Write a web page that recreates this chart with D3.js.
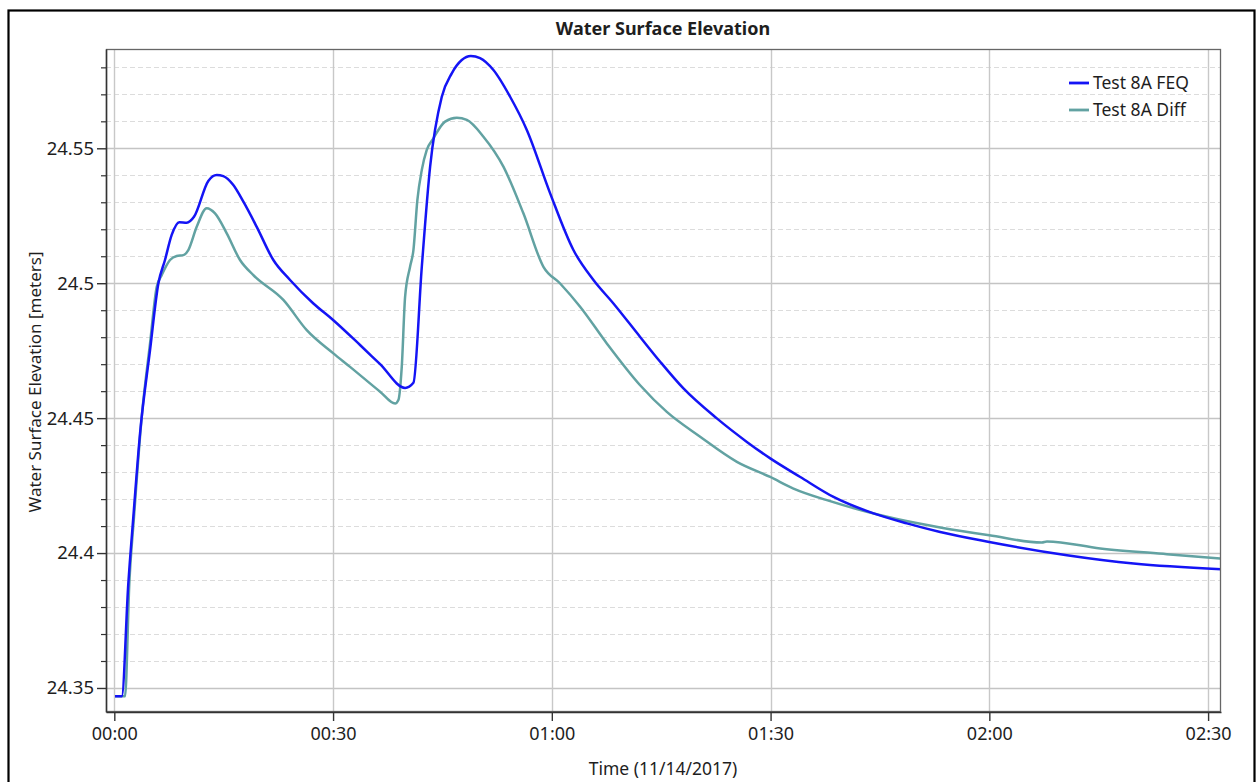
<!DOCTYPE html>
<html>
<head>
<meta charset="utf-8">
<script src="https://cdn.jsdelivr.net/npm/d3@7"></script>
<style>
  html, body { margin: 0; padding: 0; background: #fff; }
  svg { display: block; }
  text { font-family: "Noto Sans", "Open Sans", sans-serif; fill: #1e1e1e; }
</style>
</head>
<body>
<svg id="chart" width="1259" height="782"></svg>
<script>
// ---- data (minutes after 11/14/2017 00:00, water surface elevation in meters) ----
const feqMinutes = [0.1, 1.02, 1.92, 2.61, 3.53, 4.90, 6.04, 6.95, 7.87, 8.92, 9.93, 10.93, 12.89, 14.05, 14.95, 16.32, 17.70, 19.53, 21.81, 24.10, 27.30, 30.04, 33.70, 36.45, 39.88, 41.02, 42.17, 43.31, 44.91, 46.28, 47.65, 48.89, 50.16, 51.99, 54.28, 56.57, 59.77, 62.96, 65.71, 68.45, 72.11, 74.86, 78.05, 82.63, 86.75, 89.95, 94.07, 98.63, 104.12, 108.70, 113.26, 119.99, 130.64, 139.78, 151.77];
const feqValues  = [24.3469, 24.3469, 24.3887, 24.4134, 24.4444, 24.4752, 24.4999, 24.5086, 24.5179, 24.5226, 24.5224, 24.5246, 24.5379, 24.5401, 24.5397, 24.5364, 24.5302, 24.5209, 24.5086, 24.5012, 24.4925, 24.4863, 24.4771, 24.4700, 24.4612, 24.4631, 24.5061, 24.5432, 24.5691, 24.5778, 24.5827, 24.5842, 24.5834, 24.5790, 24.5691, 24.5568, 24.5333, 24.5123, 24.5012, 24.4925, 24.4801, 24.4709, 24.4610, 24.4499, 24.4412, 24.4351, 24.4282, 24.4208, 24.4147, 24.4110, 24.4078, 24.4041, 24.3992, 24.3961, 24.3940];

const diffMinutes = [0.1, 1.47, 2.06, 2.70, 3.76, 4.90, 5.82, 6.50, 7.64, 8.56, 9.47, 10.15, 11.30, 12.67, 13.81, 15.42, 17.24, 19.07, 23.18, 26.39, 30.04, 32.33, 36.45, 38.51, 38.96, 39.42, 39.88, 40.56, 41.02, 41.56, 42.17, 42.85, 43.76, 45.36, 46.97, 48.34, 50.62, 53.36, 56.10, 58.85, 61.14, 63.88, 67.54, 72.11, 75.77, 80.34, 85.38, 89.95, 93.14, 97.72, 103.21, 107.32, 113.26, 119.99, 127.2, 127.9, 135.21, 144.36, 151.77];
const diffValues  = [24.3469, 24.3469, 24.3888, 24.4134, 24.4505, 24.4777, 24.4987, 24.5030, 24.5086, 24.5101, 24.5104, 24.5123, 24.5209, 24.5278, 24.5259, 24.5185, 24.5086, 24.5030, 24.4938, 24.4826, 24.4740, 24.4690, 24.4598, 24.4554, 24.4567, 24.4690, 24.4950, 24.5061, 24.5123, 24.5308, 24.5420, 24.5494, 24.5537, 24.5599, 24.5613, 24.5605, 24.5543, 24.5432, 24.5259, 24.5061, 24.4999, 24.4913, 24.4777, 24.4622, 24.4523, 24.4431, 24.4338, 24.4282, 24.4239, 24.4196, 24.4153, 24.4126, 24.4095, 24.4066, 24.4039, 24.4043, 24.4017, 24.3996, 24.3980];

const seriesNames = ["Test 8A FEQ", "Test 8A Diff"];
const seriesColors = ["#1414f5", "#62a2a2"];
const yMajorTicks = [24.35, 24.4, 24.45, 24.5, 24.55];
const xTickMinutes = [0, 30, 60, 90, 120, 150];
const xDomainMinutes = [-1.14, 151.77];
const yDomain = [24.3411, 24.5868];

// ---- layout ----
const svg = d3.select("#chart");
const plot = { left: 106, top: 49, right: 1221, bottom: 712 };

const t0 = Date.UTC(2017, 10, 14, 0, 0, 0);
const toDate = m => new Date(t0 + m * 60000);

const x = d3.scaleUtc()
  .domain(xDomainMinutes.map(toDate))
  .range([plot.left, plot.right]);
const y = d3.scaleLinear().domain(yDomain).range([plot.bottom, plot.top]);

// outer frame
svg.append("rect").attr("x", 8.5).attr("y", 10.5).attr("width", 1246).attr("height", 820)
  .attr("fill", "none").attr("stroke", "#000").attr("stroke-width", 2.2);

// title
svg.append("text").attr("x", 663).attr("y", 35).attr("text-anchor", "middle")
  .attr("font-size", 18).attr("font-weight", "bold").text("Water Surface Elevation");

// grid: minor horizontal (0.01)
const minorTicks = d3.range(24.35, 24.59, 0.01).map(v => +v.toFixed(2))
  .filter(v => !yMajorTicks.some(m => Math.abs(m - v) < 1e-6));
const gGrid = svg.append("g");
gGrid.selectAll("line.minor").data(minorTicks).join("line")
  .attr("x1", plot.left).attr("x2", plot.right)
  .attr("y1", d => Math.round(y(d)) + 0.5).attr("y2", d => Math.round(y(d)) + 0.5)
  .attr("stroke", "#dcdcdc").attr("stroke-width", 1.2).attr("stroke-dasharray", "5,3");
gGrid.selectAll("line.major").data(yMajorTicks).join("line")
  .attr("x1", plot.left).attr("x2", plot.right)
  .attr("y1", d => Math.round(y(d)) + 0.5).attr("y2", d => Math.round(y(d)) + 0.5)
  .attr("stroke", "#c4c4c4").attr("stroke-width", 1.3);
gGrid.selectAll("line.v").data(xTickMinutes).join("line")
  .attr("x1", d => Math.round(x(toDate(d))) + 0.5).attr("x2", d => Math.round(x(toDate(d))) + 0.5)
  .attr("y1", plot.top).attr("y2", plot.bottom)
  .attr("stroke", "#c8c8c8").attr("stroke-width", 1.4);

// series
const line = d3.line().x(d => x(toDate(d[0]))).y(d => y(d[1])).curve(d3.curveMonotoneX);
const feq = feqMinutes.map((m, i) => [m, feqValues[i]]);
const diff = diffMinutes.map((m, i) => [m, diffValues[i]]);
svg.append("clipPath").attr("id", "clip").append("rect")
  .attr("x", plot.left).attr("y", plot.top).attr("width", plot.right - plot.left).attr("height", plot.bottom - plot.top);
const gLines = svg.append("g").attr("clip-path", "url(#clip)");
gLines.append("path").datum(diff).attr("d", line).attr("fill", "none")
  .attr("stroke", seriesColors[1]).attr("stroke-width", 2.5).attr("stroke-linejoin", "round");
gLines.append("path").datum(feq).attr("d", line).attr("fill", "none")
  .attr("stroke", seriesColors[0]).attr("stroke-width", 2.5).attr("stroke-linejoin", "round");

// plot frame
svg.append("rect").attr("x", plot.left + 0.5).attr("y", plot.top + 0.5)
  .attr("width", plot.right - plot.left - 1).attr("height", plot.bottom - plot.top - 1)
  .attr("fill", "none").attr("stroke", "#666").attr("stroke-width", 1.3);

// axes
const xAxis = d3.axisBottom(x).tickValues(xTickMinutes.map(toDate))
  .tickFormat(d3.utcFormat("%H:%M")).tickSize(9).tickPadding(6).tickSizeOuter(0);
const gx = svg.append("g").attr("transform", `translate(0,${plot.bottom})`).call(xAxis);
gx.select(".domain").attr("stroke", "#333").attr("stroke-width", 1.5);
gx.selectAll(".tick line").attr("stroke", "#333").attr("stroke-width", 1.4);
gx.selectAll(".tick text").attr("font-size", 18).attr("fill", "#1e1e1e")
  .attr("font-family", "'Noto Sans', sans-serif").attr("dy", "0.72em");

const yAxis = d3.axisLeft(y).tickValues(yMajorTicks).tickFormat(d3.format("")).tickSize(9).tickPadding(3).tickSizeOuter(0);
const gy = svg.append("g").attr("transform", `translate(${plot.left},0)`).call(yAxis);
gy.select(".domain").attr("stroke", "#333").attr("stroke-width", 1.5);
gy.selectAll(".tick line").attr("stroke", "#333").attr("stroke-width", 1.4);
gy.selectAll(".tick text").attr("font-size", 18.5).attr("fill", "#1e1e1e")
  .attr("font-family", "'Noto Sans', sans-serif");
const yMinorAxis = d3.axisLeft(y).tickValues(minorTicks).tickFormat("").tickSize(5).tickSizeOuter(0);
const gym = svg.append("g").attr("transform", `translate(${plot.left},0)`).call(yMinorAxis);
gym.select(".domain").remove();
gym.selectAll(".tick line").attr("stroke", "#333").attr("stroke-width", 1.2);

// axis titles
svg.append("text").attr("x", 663).attr("y", 775).attr("text-anchor", "middle")
  .attr("font-size", 17.5).text("Time (11/14/2017)");
svg.append("text").attr("transform", "translate(41,382) rotate(-90)").attr("text-anchor", "middle")
  .attr("font-size", 17).text("Water Surface Elevation [meters]");

// legend
const leg = svg.append("g");
seriesNames.forEach((name, i) => {
  const ly = 83 + i * 27;
  leg.append("line").attr("x1", 1069).attr("x2", 1089).attr("y1", ly).attr("y2", ly)
    .attr("stroke", seriesColors[i]).attr("stroke-width", 2.8);
  leg.append("text").attr("x", 1093).attr("y", ly).attr("dy", "0.35em")
    .attr("font-size", 17.5).text(name);
});
</script>
</body>
</html>
